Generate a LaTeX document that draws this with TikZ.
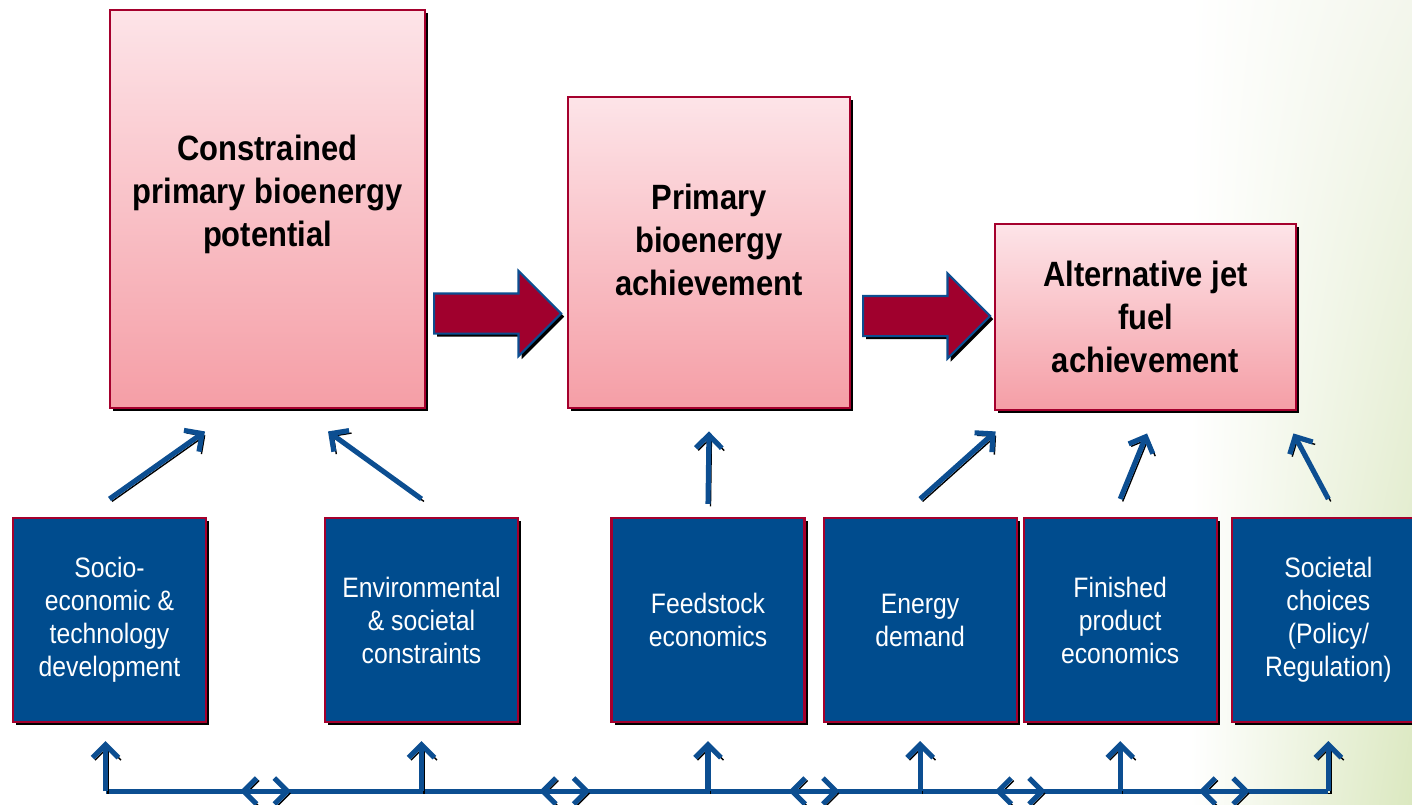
\documentclass[tikz,border=0pt]{standalone}
\usepackage{fontspec}
\usetikzlibrary{positioning,calc,shapes.arrows,shadows,shadings,arrows.meta}
\newfontfamily\boxfont[FakeStretch=0.88]{Liberation Sans}
\definecolor{boxred}{RGB}{165,0,45}
\definecolor{pinktop}{RGB}{253,228,232}
\definecolor{pinkbot}{RGB}{245,158,166}
\definecolor{boxblue}{RGB}{0,76,142}
\definecolor{wireblue}{RGB}{12,78,145}
\definecolor{arrowred}{RGB}{160,0,45}
\definecolor{bgtop}{RGB}{243,246,236}
\definecolor{bgbot}{RGB}{219,232,192}

\begin{document}
\begin{tikzpicture}[>={Straight Barb[length=1.3mm,width=2.6mm]},
    boxshadow/.style={drop shadow={shadow xshift=0.9pt, shadow yshift=-0.9pt, opacity=1, fill=black}},
    pinkbox/.style={rectangle, draw=boxred, line width=0.8pt, top color=pinktop, bottom color=pinkbot, align=center, font=\boxfont\fontsize{10}{12.2}\selectfont\bfseries, boxshadow},
    bluebox/.style={rectangle, draw=boxred, line width=0.6pt, fill=boxblue, text=white, align=center, minimum width=1.93cm, minimum height=2.04cm, font=\boxfont\fontsize{8}{9.4}\selectfont, boxshadow},
    bigarrow/.style={single arrow, anchor=tail, draw=wireblue, line width=0.6pt, fill=arrowred, inner sep=0.19cm, minimum height=1.27cm, single arrow head extend=0.225cm, boxshadow},
    wire/.style={draw=wireblue, line width=1.45pt, #1, preaction={draw=black, #1, transform canvas={xshift=0.7pt, yshift=-0.7pt}}},
    wire/.default=-]
  \useasboundingbox (0,0) rectangle (14.12,-8.04);
  \shade[upper left=white, lower left=white, upper right=bgtop, lower right=bgbot] (11.9,0) rectangle (14.12,-8.04);

  \node[pinkbox, minimum width=3.15cm, minimum height=3.98cm] (p0) at (2.675,-2.09) {Constrained\\primary bioenergy\\potential\\[-2pt]\mbox{}};
  \node[pinkbox, minimum width=2.82cm, minimum height=3.11cm] (p1) at (7.09,-2.525) {Primary\\bioenergy\\achievement\\[-5pt]\mbox{}};
  \node[pinkbox, minimum width=3.01cm, minimum height=1.86cm] (p2) at (11.455,-3.17) {Alternative jet\\fuel\\achievement};

  \node[bigarrow] (a0) at (4.33,-3.135) {};
  \node[bigarrow] (a1) at (8.62,-3.16) {};

  \node[bluebox] (c0) at (1.095,-6.2) {Socio-\\economic \&\\technology\\development};
  \node[bluebox] (c1) at (4.215,-6.2) {Environmental\\\& societal\\constraints};
  \node[bluebox] (c2) at (7.08,-6.2) {Feedstock\\economics};
  \node[bluebox] (c3) [right=0.17cm of c2] {Energy\\demand};
  \node[bluebox] (c4) [right=0.05cm of c3] {Finished\\product\\economics};
  \node[bluebox] (c5) [right=0.13cm of c4] {Societal\\choices\\(Policy/\\Regulation)};

  \draw[wire=->] ([yshift=0.18cm]c0.north)--($(p0.south)+(-0.625,-0.22)$);
  \draw[wire=->] ([yshift=0.18cm]c1.north)--($(p0.south)+(0.605,-0.22)$);
  \draw[wire=->] ([yshift=0.13cm]c2.north)--($(p1.south)+(0,-0.22)$);
  \draw[wire=->] ([yshift=0.18cm]c3.north)--($(p2.south west)+(0.02,-0.2)$);
  \draw[wire=->] ([yshift=0.18cm]c4.north)--($(p2.south)+(0.015,-0.22)$);
  \draw[wire=->] ([yshift=0.18cm]c5.north)--($(p2.south east)+(-0.04,-0.22)$);

  \coordinate (bus) at ([xshift=-0.04cm,yshift=-0.68cm]c0.south);
  \draw[wire] (bus)--(c5.south |- bus);
  \draw[wire=->] (bus)--++(0,0.5);
  \draw[wire=->] (c1.south |- bus)--([yshift=-0.18cm]c1.south);
  \draw[wire=->] (c2.south |- bus)--([yshift=-0.18cm]c2.south);
  \draw[wire=->] (c3.south |- bus)--([yshift=-0.18cm]c3.south);
  \draw[wire=->] (c4.south |- bus)--([yshift=-0.18cm]c4.south);
  \draw[wire=->] (c5.south |- bus)--([yshift=-0.18cm]c5.south);

  \draw[wire=<->] ($(c0.south)!0.5!(c1.south)+(-0.255,-0.68)$)--++(0.51,0);
  \draw[wire=<->] ($(c1.south)!0.5!(c2.south)+(-0.255,-0.68)$)--++(0.51,0);
  \draw[wire=<->] ($(c2.south)!0.5!(c3.south)+(-0.255,-0.68)$)--++(0.51,0);
  \draw[wire=<->] ($(c3.south)!0.5!(c4.south)+(-0.255,-0.68)$)--++(0.51,0);
  \draw[wire=<->] ($(c4.south)!0.5!(c5.south)+(-0.255,-0.68)$)--++(0.51,0);
\end{tikzpicture}
\end{document}
